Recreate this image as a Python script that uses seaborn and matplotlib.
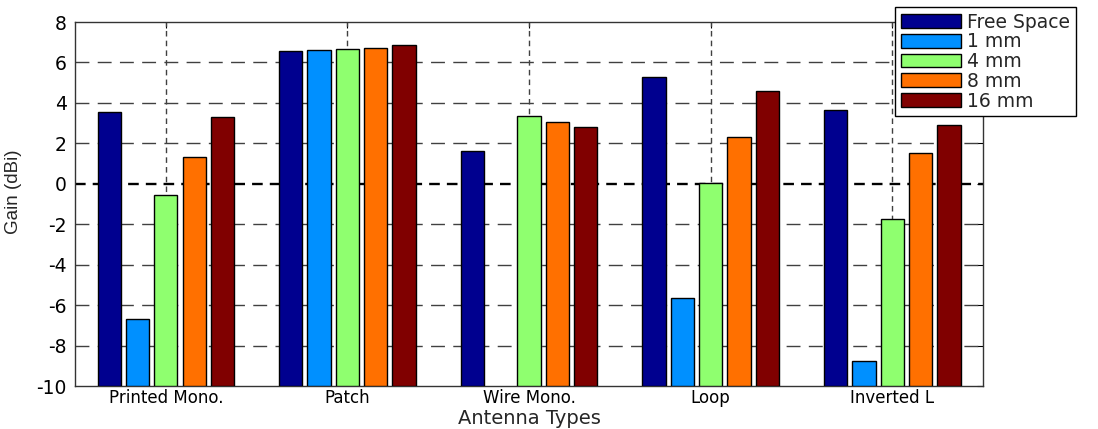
import matplotlib
matplotlib.use("Agg")
import matplotlib.pyplot as plt
from matplotlib.patches import Patch
import numpy as np
import pandas as pd
import seaborn as sns

antennas = ["Printed Mono.", "Patch", "Wire Mono.", "Loop", "Inverted L"]
series = ["Free Space", "1 mm", "4 mm", "8 mm", "16 mm"]
free_space = [3.57, 6.56, 1.60, 5.29, 3.66]
mm1 = [-6.67, 6.61, np.nan, -5.67, -8.74]
mm4 = [-0.56, 6.66, 3.35, 0.06, -1.74]
mm8 = [1.33, 6.71, 3.06, 2.32, 1.51]
mm16 = [3.29, 6.85, 2.83, 4.57, 2.91]
colors = ["#00008F", "#0090FF", "#8FFF6F", "#FF7000", "#800000"]
y_min, y_max = -10, 8

rows = []
for name, vals in zip(series, [free_space, mm1, mm4, mm8, mm16]):
    for ant, v in zip(antennas, vals):
        rows.append({"antenna": ant, "series": name, "gain": v})
df = pd.DataFrame(rows)
# bars start at the bottom of the axis, like the original MATLAB plot
df["height"] = df["gain"] - y_min

sns.set_style("white")
plt.rcParams["font.family"] = ["DejaVu Sans"]
plt.rcParams["axes.unicode_minus"] = False

fig = plt.figure(figsize=(10.98, 4.29), dpi=100)
ax = fig.add_axes([0.0683, 0.1002, 0.827, 0.8485])

sns.barplot(data=df, x="antenna", y="height", hue="series", order=antennas,
            hue_order=series, palette=colors, saturation=1, width=0.78,
            gap=0.18, edgecolor="black", linewidth=1.0, errorbar=None,
            bottom=y_min, legend=False, ax=ax, zorder=3)

ax.set_xlim(-0.5, 4.5)
ax.set_ylim(y_min, y_max)
ax.set_yticks(range(y_min, y_max + 1, 2))

for y in range(y_min + 2, y_max, 2):
    if y == 0:
        ax.axhline(0, color="black", lw=1.7, ls=(0, (4.5, 3)), zorder=1)
    else:
        ax.axhline(y, color="#404040", lw=1.0, ls=(0, (10, 6)), zorder=1)
for x in range(len(antennas)):
    ax.axvline(x, color="#404040", lw=1.0, ls=(0, (4, 3)), zorder=1)

for side in ["left", "right", "top", "bottom"]:
    ax.spines[side].set_color("#333333")
    ax.spines[side].set_linewidth(1.0)
ax.tick_params(axis="both", direction="in", length=4, width=0.8,
               top=True, right=True, colors="black")
ax.tick_params(axis="x", labelsize=12, pad=2)
ax.tick_params(axis="y", labelsize=13.5, pad=6)

ax.set_xlabel("Antenna Types", fontsize=14)
ax.set_ylabel("Gain (dBi)", fontsize=13.5, family="Liberation Sans")
ax.xaxis.set_label_coords(0.5, -0.062)
ax.yaxis.set_label_coords(-0.058, 0.533)

handles = [Patch(facecolor=c, edgecolor="black", linewidth=1.0, label=s)
           for c, s in zip(colors, series)]
ax.legend(handles=handles, loc="upper left",
          bbox_to_anchor=(895 / 1098, 1 - 7 / 429),
          bbox_transform=fig.transFigure, fontsize=13.5, frameon=True,
          fancybox=False, edgecolor="black", framealpha=1,
          handlelength=3.2, handleheight=0.75, labelspacing=0.04,
          handletextpad=0.35, borderpad=0.3, borderaxespad=0)

fig.savefig("out.png", dpi=100)
